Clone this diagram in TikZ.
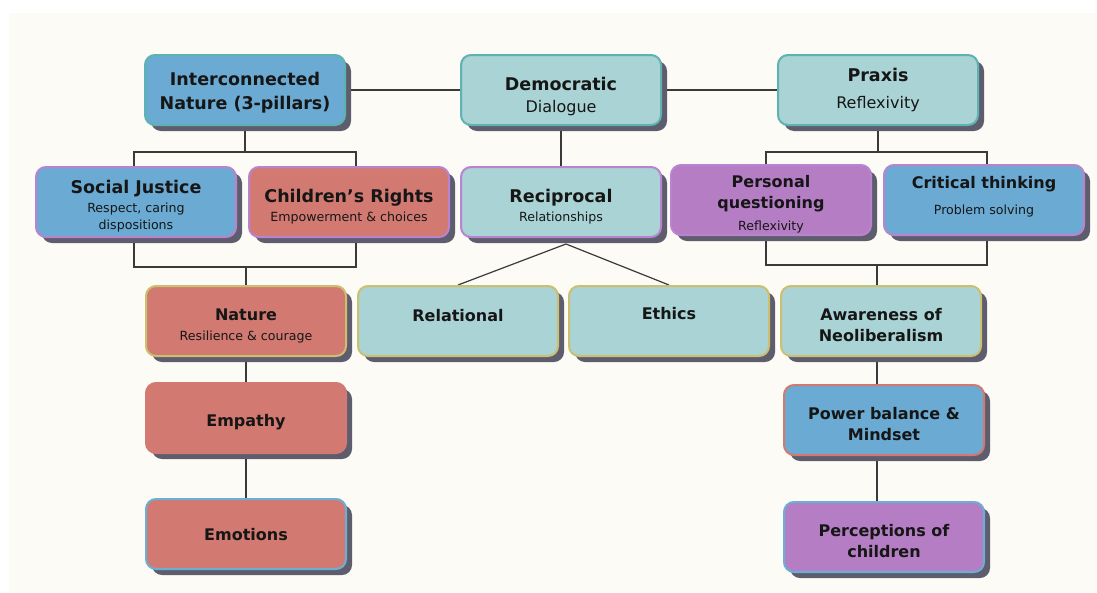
\documentclass[tikz,border=0pt]{standalone}
\usepackage{fontspec}
\setmainfont{DejaVu Sans}
\usetikzlibrary{shadows,backgrounds,calc}

\definecolor{paper}{HTML}{FCFBF6}
\definecolor{fillblue}{HTML}{6AAAD3}
\definecolor{fillteal}{HTML}{A9D3D5}
\definecolor{fillred}{HTML}{D27A71}
\definecolor{fillpurple}{HTML}{B47DC4}
\definecolor{edgeteal}{HTML}{5CB3AF}
\definecolor{edgepurple}{HTML}{B983CF}
\definecolor{edgegold}{HTML}{CDBF70}
\definecolor{edgered}{HTML}{D27A71}
\definecolor{edgeblue}{HTML}{6BAED6}
\definecolor{shadowc}{HTML}{5E5D6D}
\definecolor{wire}{HTML}{3A3A3A}
\definecolor{ink}{HTML}{161616}

\newcommand\lblbig{\fontsize{17.5}{22}\selectfont\bfseries}
\newcommand\lblmid{\fontsize{16}{22}\selectfont\bfseries}
\newcommand\lblsub{\fontsize{16}{22}\selectfont}
\newcommand\lblsmall{\fontsize{12.6}{22}\selectfont}
% invisible strut on a first line: pushes the text block down by half its argument
\newcommand\dropby[1]{\rule{0pt}{\dimexpr0.76em+#1\relax}}

\tikzset{
  box/.style={draw, line width=2pt, rounded corners=10pt,
    minimum width=200pt, minimum height=70pt, inner sep=2pt,
    align=center, text=ink, font=\fontsize{16}{22}\selectfont,
    drop shadow={shadow xshift=6pt, shadow yshift=-6pt, fill=shadowc, opacity=1}},
  bluebox/.style={box, fill=fillblue},
  tealbox/.style={box, fill=fillteal},
  redbox/.style={box, fill=fillred},
  purplebox/.style={box, fill=fillpurple},
  wirestyle/.style={draw=wire, line width=1.2pt}
}

\begin{document}
\begin{tikzpicture}[x=1pt, y=-1pt]
\useasboundingbox (0,0) rectangle (1097,592);

% top row
\node[bluebox, draw=edgeteal] (inter) at (245,90)
  {\lblbig\dropby{6pt}Interconnected\\[2pt]\lblbig Nature (3-pillars)};
\node[tealbox, draw=edgeteal] (demo) at (561,90)
  {\lblbig\dropby{14pt}Democratic\\\lblsub Dialogue};
\node[tealbox, draw=edgeteal] (praxis) at (878,90)
  {\lblbig Praxis\\[5pt]\lblsub Reflexivity};

% second row
\node[bluebox, draw=edgepurple] (social) at (136,202)
  {\lblbig\dropby{9pt}Social Justice\\[-3pt]\lblsmall Respect, caring\\[-5pt]\lblsmall dispositions};
\node[redbox, draw=edgepurple] (rights) at (349,202)
  {\lblbig\dropby{10pt}Children’s Rights\\[-3pt]\lblsmall Empowerment \& choices};
\node[tealbox, draw=edgepurple] (recip) at (561,202)
  {\lblbig\dropby{10pt}Reciprocal\\[-3pt]\lblsmall Relationships};
\node[purplebox, draw=edgepurple] (personal) at (771,200)
  {\lblmid\dropby{8pt}Personal\\[-1pt]\lblmid questioning\\\lblsmall Reflexivity};
\node[bluebox, draw=edgepurple] (critical) at (984,200)
  {\lblmid Critical thinking\\[4pt]\lblsmall Problem solving\rule[-9pt]{0pt}{9pt}};

% third row
\node[redbox, draw=edgegold] (nature) at (246,321)
  {\lblmid\dropby{10pt}Nature\\[-2pt]\lblsmall Resilience \& courage};
\node[tealbox, draw=edgegold, text height=13pt, text depth=13pt] (relational) at (458,321)
  {\lblmid Relational};
\node[tealbox, draw=edgegold, text height=13pt, text depth=17pt] (ethics) at (669,321)
  {\lblmid Ethics};
\node[tealbox, draw=edgegold] (aware) at (881,321)
  {\lblmid\dropby{8pt}Awareness of\\[-1pt]\lblmid Neoliberalism};

% lower columns
\node[redbox, draw=edgered] (empathy) at (246,418) {\lblmid\dropby{8pt}Empathy};
\node[bluebox, draw=edgered] (power) at (884,420)
  {\lblmid\dropby{8pt}Power balance \&\\[-1pt]\lblmid Mindset};
\node[redbox, draw=edgeblue] (emotions) at (246,534) {\lblmid\dropby{2pt}Emotions};
\node[purplebox, draw=edgeblue] (percep) at (884,537)
  {\lblmid\dropby{8pt}Perceptions of\\[-1pt]\lblmid children};

% bracket corners and junction points
\coordinate (lta) at (134,152);
\coordinate (ltb) at (356,152);
\coordinate (lba) at (134,267);
\coordinate (lbb) at (356,267);
\coordinate (rta) at (766,152);
\coordinate (rtb) at (987,152);
\coordinate (rba) at (766,265);
\coordinate (rbb) at (987,265);
\coordinate (rspine) at (877,265);
\coordinate (rapex) at ([xshift=5pt,yshift=-6pt]recip.south);

\begin{pgfonlayer}{background}
  \fill[white] (0,0) rectangle (1097,592);
  \fill[paper] (9,13) rectangle (1097,592);
  \begin{scope}[wirestyle]
    \draw (inter.east) -- (demo.west);
    \draw (demo.east) -- (praxis.west);
    % left pillars
    \draw (inter.south) -- (inter.south |- lta);
    \draw (social.north -| lta) -- (lta) -- (ltb) -- (rights.north -| ltb);
    \draw (social.south -| lba) -- (lba) -- (lbb) -- (rights.south -| lbb);
    \draw (nature.north |- lba) -- (nature.north);
    \draw (nature.south) -- (empathy.north);
    \draw (empathy.south) -- (emotions.north);
    % centre
    \draw (demo.south) -- (recip.north);
    \draw (relational.north) -- (rapex) -- (ethics.north);
    % right pillars
    \draw (praxis.south) -- (praxis.south |- rta);
    \draw (personal.north -| rta) -- (rta) -- (rtb) -- (critical.north -| rtb);
    \draw (personal.south -| rba) -- (rba) -- (rbb) -- (critical.south -| rbb);
    \draw (rspine) -- (aware.north -| rspine);
    \draw (aware.south -| rspine) -- (power.north -| rspine);
    \draw (power.south -| rspine) -- (percep.north -| rspine);
  \end{scope}
\end{pgfonlayer}
\end{tikzpicture}
\end{document}
